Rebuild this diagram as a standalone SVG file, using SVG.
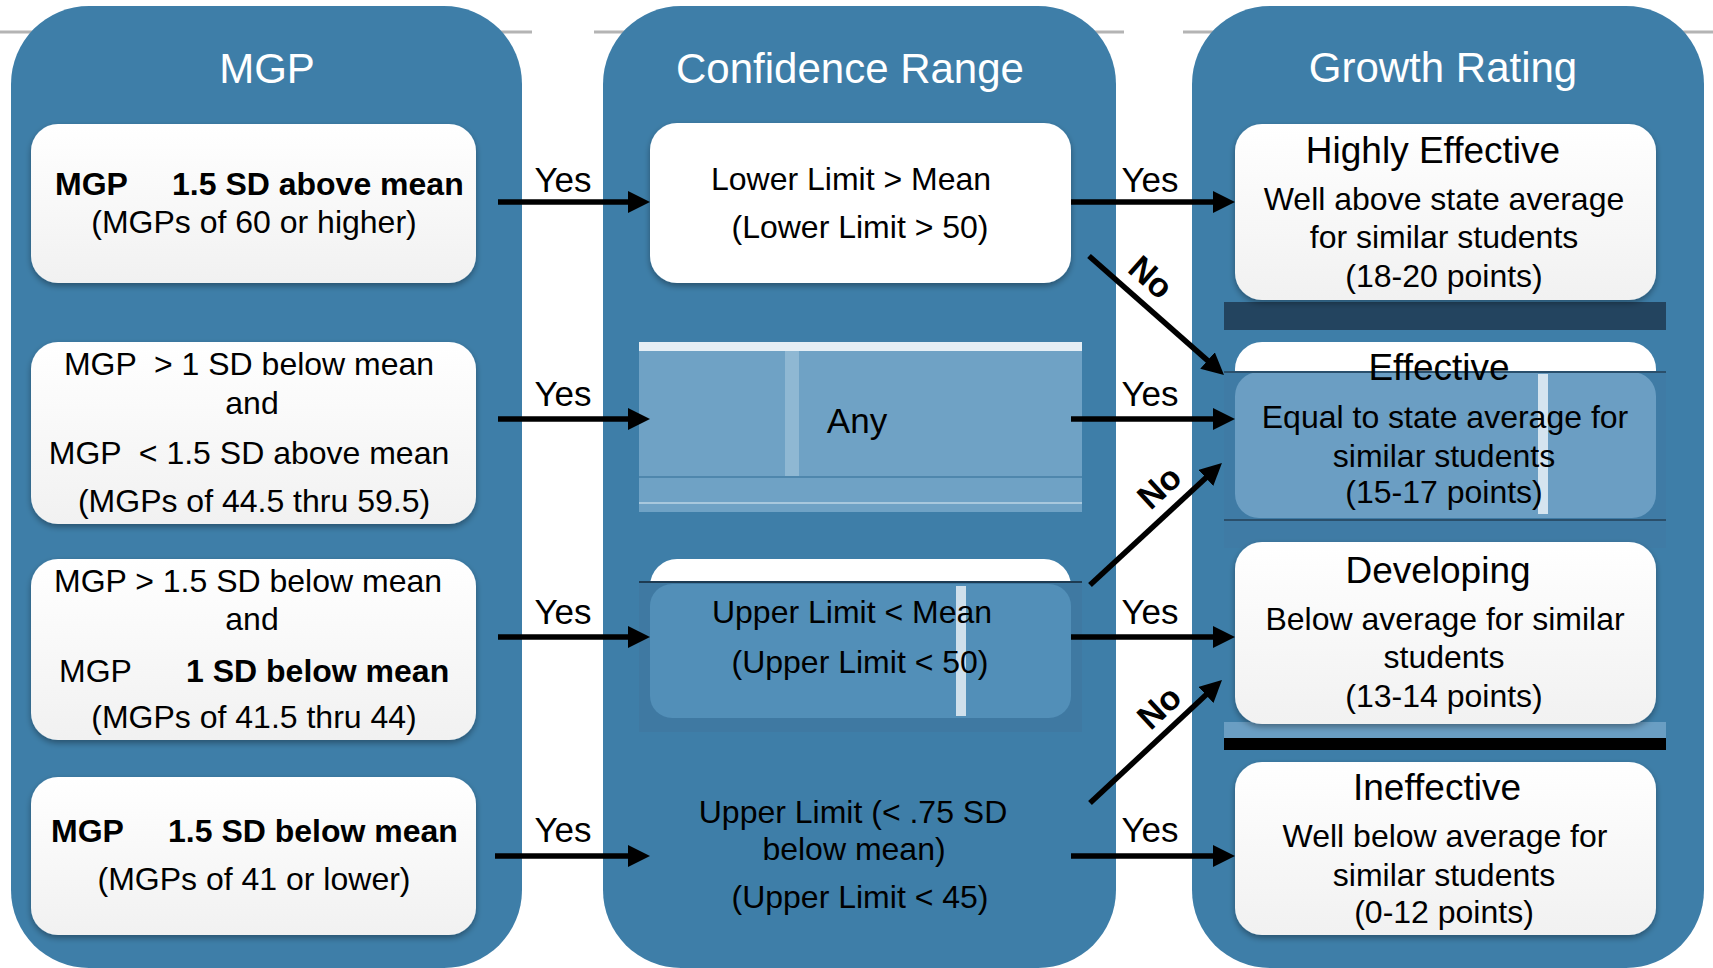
<svg xmlns="http://www.w3.org/2000/svg" width="1713" height="968" viewBox="0 0 1713 968">
<defs>
<style>
text{font-family:"Liberation Sans",Arial,sans-serif;fill:#000}
.title{font-size:42px;fill:#fff;text-anchor:middle}
.t{font-size:32px;text-anchor:middle}
.l{font-size:32px}
.b{font-weight:bold}
.h{font-size:37px;text-anchor:middle}
.yes{font-size:35px;text-anchor:middle}
.no{font-size:34px;font-weight:bold;text-anchor:middle}
.panel{fill:#3e7ea8}
.box{fill:url(#gw);filter:url(#sh)}
.conn{stroke:#000;stroke-width:5.5;fill:none;marker-end:url(#ah)}
.grey{stroke:#b4b4b4;stroke-width:3}
</style>
<linearGradient id="gw" x1="0" y1="0" x2="0" y2="1"><stop offset="0" stop-color="#ffffff"/><stop offset="1" stop-color="#f1f1f1"/></linearGradient>
<filter id="sh" x="-5%" y="-5%" width="110%" height="120%"><feDropShadow dx="0" dy="3" stdDeviation="3" flood-color="#000" flood-opacity="0.35"/></filter>
<marker id="ah" markerUnits="userSpaceOnUse" markerWidth="22" markerHeight="22" refX="12" refY="11" orient="auto"><path d="M0,0 L22,11 L0,22 z" fill="#000"/></marker>
</defs>
<g id="top-lines">
<line class="grey" x1="0" y1="32" x2="532" y2="32"/>
<line class="grey" x1="594" y1="32" x2="1124" y2="32"/>
<line class="grey" x1="1183" y1="32" x2="1713" y2="32"/>
</g>
<g id="panel-mgp">
<rect class="panel" x="11" y="6" width="511" height="962" rx="78"/>
<text class="title" x="267" y="83">MGP</text>
</g>
<g id="panel-confidence">
<rect class="panel" x="603" y="6" width="513" height="962" rx="78"/>
<text class="title" x="850" y="83">Confidence Range</text>
</g>
<g id="panel-growth">
<rect class="panel" x="1192" y="6" width="512" height="962" rx="78"/>
<text class="title" x="1443" y="82">Growth Rating</text>
</g>
<g id="mgp-1">
<rect class="box" x="31" y="124" width="445" height="159" rx="27"/>
<text class="l b" x="55" y="195">MGP</text>
<text class="l b" x="172" y="195">1.5 SD above mean</text>
<text class="t" x="254" y="233">(MGPs of 60 or higher)</text>
</g>
<g id="mgp-2">
<rect class="box" x="31" y="342" width="445" height="182" rx="27"/>
<text class="t" x="249" y="375" xml:space="preserve">MGP  &gt; 1 SD below mean</text>
<text class="t" x="252" y="414">and</text>
<text class="t" x="249" y="464" xml:space="preserve">MGP  &lt; 1.5 SD above mean</text>
<text class="t" x="254" y="512">(MGPs of 44.5 thru 59.5)</text>
</g>
<g id="mgp-3">
<rect class="box" x="31" y="559" width="445" height="181" rx="27"/>
<text class="t" x="248" y="592">MGP &gt; 1.5 SD below mean</text>
<text class="t" x="252" y="630">and</text>
<text class="l" x="59" y="682">MGP</text>
<text class="l b" x="186" y="682">1 SD below mean</text>
<text class="t" x="254" y="728">(MGPs of 41.5 thru 44)</text>
</g>
<g id="mgp-4">
<rect class="box" x="31" y="777" width="445" height="158" rx="27"/>
<text class="l b" x="51" y="842">MGP</text>
<text class="l b" x="168" y="842">1.5 SD below mean</text>
<text class="t" x="254" y="890">(MGPs of 41 or lower)</text>
</g>
<g id="cr-lower">
<rect x="650" y="123" width="421" height="160" rx="27" fill="#fff" filter="url(#sh)"/>
<text class="t" x="851" y="190">Lower Limit &gt; Mean</text>
<text class="t" x="860" y="238">(Lower Limit &gt; 50)</text>
</g>
<g id="cr-any">
<rect x="639" y="342" width="443" height="170" fill="#6fa2c5"/>
<rect x="639" y="342" width="443" height="9" fill="#e4eef5"/>
<rect x="785" y="351" width="14" height="126" fill="#8fb8d3"/>
<line x1="639" y1="477" x2="1082" y2="477" stroke="#4f87ad" stroke-width="2"/>
<line x1="639" y1="503" x2="1082" y2="503" stroke="#a8c8dd" stroke-width="2"/>
<text x="857" y="433" style="font-size:35px;text-anchor:middle">Any</text>
</g>
<g id="cr-upper">
<rect x="650" y="559" width="421" height="60" rx="27" fill="#fff"/>
<rect x="639" y="582" width="443" height="150" fill="#3f79a2"/>
<rect x="650" y="584" width="421" height="134" rx="22" fill="#528fb8"/>
<line x1="639" y1="582" x2="1082" y2="582" stroke="#1e3b52" stroke-width="2"/>
<rect x="956" y="586" width="10" height="130" fill="#cfe0ec"/>
<text class="t" x="852" y="623">Upper Limit &lt; Mean</text>
<text class="t" x="860" y="673">(Upper Limit &lt; 50)</text>
</g>
<g id="cr-upper45">
<text class="t" x="853" y="823">Upper Limit (&lt; .75 SD</text>
<text class="t" x="854" y="860">below mean)</text>
<text class="t" x="860" y="908">(Upper Limit &lt; 45)</text>
</g>
<g id="gr-highly">
<rect x="1224" y="302" width="442" height="28" fill="#23445f"/>
<rect class="box" x="1235" y="124" width="421" height="176" rx="27"/>
<text class="h" x="1433" y="163">Highly Effective</text>
<text class="t" x="1444" y="210">Well above state average</text>
<text class="t" x="1444" y="248">for similar students</text>
<text class="t" x="1444" y="287">(18-20 points)</text>
</g>
<g id="gr-effective">
<rect x="1235" y="342" width="421" height="60" rx="27" fill="#fff"/>
<rect x="1224" y="372" width="442" height="176" fill="#3f7ba5"/>
<rect x="1235" y="372" width="421" height="146" rx="24" fill="#6b9ec3"/>
<line x1="1224" y1="372" x2="1666" y2="372" stroke="#2a4f6b" stroke-width="2"/>
<line x1="1224" y1="520" x2="1666" y2="520" stroke="#2a4f6b" stroke-width="2"/>
<rect x="1538" y="374" width="10" height="140" fill="#d5e4ef"/>
<text class="h" x="1439" y="380">Effective</text>
<text class="t" x="1445" y="428">Equal to state average for</text>
<text class="t" x="1444" y="467">similar students</text>
<text class="t" x="1444" y="503">(15-17 points)</text>
</g>
<g id="gr-developing">
<rect x="1224" y="722" width="442" height="16" fill="#6a9ec3"/>
<rect x="1224" y="738" width="442" height="12" fill="#000"/>
<rect class="box" x="1235" y="542" width="421" height="182" rx="27"/>
<text class="h" x="1438" y="583">Developing</text>
<text class="t" x="1445" y="630">Below average for similar</text>
<text class="t" x="1444" y="668">students</text>
<text class="t" x="1444" y="707">(13-14 points)</text>
</g>
<g id="gr-ineffective">
<rect class="box" x="1235" y="762" width="421" height="173" rx="27"/>
<text class="h" x="1437" y="800">Ineffective</text>
<text class="t" x="1445" y="847">Well below average for</text>
<text class="t" x="1444" y="886">similar students</text>
<text class="t" x="1444" y="923">(0-12 points)</text>
</g>
<g id="connectors">
<line class="conn" x1="498" y1="202" x2="640" y2="202"/>
<line class="conn" x1="498" y1="419" x2="640" y2="419"/>
<line class="conn" x1="498" y1="637" x2="640" y2="637"/>
<line class="conn" x1="495" y1="856" x2="640" y2="856"/>
<line class="conn" x1="1071" y1="202" x2="1225" y2="202"/>
<line class="conn" x1="1071" y1="419" x2="1225" y2="419"/>
<line class="conn" x1="1071" y1="637" x2="1225" y2="637"/>
<line class="conn" x1="1071" y1="856" x2="1225" y2="856"/>
<line class="conn" x1="1089" y1="256" x2="1216.5" y2="368.4"/>
<line class="conn" x1="1090" y1="585" x2="1214.6" y2="469.8"/>
<line class="conn" x1="1090" y1="803" x2="1214.7" y2="686.8"/>
<text class="yes" x="563" y="192">Yes</text>
<text class="yes" x="563" y="406">Yes</text>
<text class="yes" x="563" y="624">Yes</text>
<text class="yes" x="563" y="842">Yes</text>
<text class="yes" x="1150" y="192">Yes</text>
<text class="yes" x="1150" y="406">Yes</text>
<text class="yes" x="1150" y="624">Yes</text>
<text class="yes" x="1150" y="842">Yes</text>
<text class="no" transform="translate(1151,277) rotate(41.4)" dy="0.35em">No</text>
<text class="no" transform="translate(1159,487) rotate(-42.7)" dy="0.35em">No</text>
<text class="no" transform="translate(1159,707) rotate(-43)" dy="0.35em">No</text>
</g>
</svg>
